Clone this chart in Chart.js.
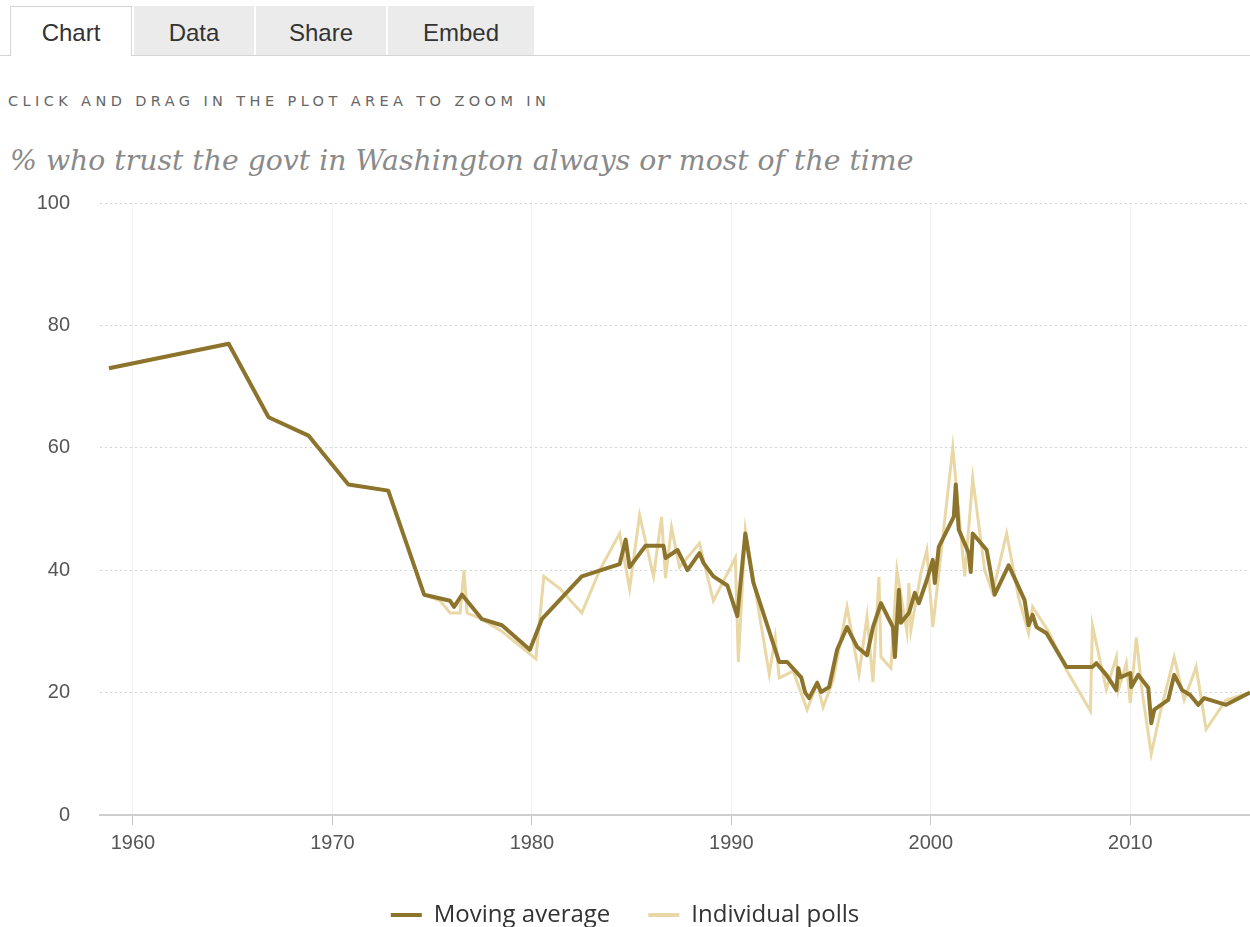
<!DOCTYPE html>
<html>
<head>
<meta charset="utf-8">
<title>Trust in government</title>
<script src="https://cdn.jsdelivr.net/npm/chart.js@4.4.1/dist/chart.umd.min.js"></script>
<style>
  html, body { margin: 0; padding: 0; background: #fff; }
  body { position: relative; width: 1250px; height: 927px; overflow: hidden; font-family: "Liberation Sans", Arial, sans-serif; }
  .tabs { position: absolute; left: 0; top: 6px; width: 1250px; height: 49px; border-bottom: 1px solid #d4d4d4; }
  .tab { position: absolute; top: 0; height: 49px; line-height: 54px; text-align: center; font-size: 24px; color: #333; background: #ebebeb; box-sizing: border-box; }
  .tab.active { background: #fff; border: 1px solid #d4d4d4; border-bottom: none; height: 50px; line-height: 52px; }
  .hint { position: absolute; left: 8px; top: 93px; font-family: "DejaVu Sans", sans-serif; font-size: 14.5px; line-height: 17px; letter-spacing: 4.4px; color: #666; white-space: nowrap; }
  .title { position: absolute; left: 10px; top: 144px; font-family: "DejaVu Serif", Georgia, serif; font-style: italic; font-size: 28.3px; line-height: 34px; color: #8a8a8a; white-space: nowrap; }
  .wrap { position: absolute; left: 0; top: 190px; width: 1250px; height: 747px; }
</style>
</head>
<body>
<div class="tabs">
  <div class="tab active" style="left:10px;width:122px">Chart</div>
  <div class="tab" style="left:134px;width:120px">Data</div>
  <div class="tab" style="left:256px;width:130px">Share</div>
  <div class="tab" style="left:388px;width:146px">Embed</div>
</div>
<div class="hint">CLICK AND DRAG IN THE PLOT AREA TO ZOOM IN</div>
<div class="title">% who trust the govt in Washington always or most of the time</div>
<div class="wrap"><canvas id="chart"></canvas></div>

<script>
// ── Datos ──────────────────────────────────────────────────────────────────
const xTicks = [1960, 1970, 1980, 1990, 2000, 2010];
const yTicks = [0, 20, 40, 60, 80, 100];

const maYears = [
  1958.8, 1964.8, 1966.8, 1968.8, 1970.8, 1972.8, 1974.6, 1975.9, 1976.1, 1976.5,
  1977.5, 1978.5, 1979.9, 1980.5, 1982.5, 1984.4, 1984.7, 1984.9, 1985.7, 1986.6,
  1986.7, 1987.3, 1987.8, 1988.4, 1988.6, 1989.1, 1989.8, 1990.3, 1990.7, 1991.1,
  1992.4, 1992.8, 1993.5, 1993.7, 1993.9, 1994.3, 1994.5, 1994.9, 1995.3, 1995.8,
  1996.3, 1996.8, 1997.1, 1997.5, 1998.1, 1998.2, 1998.4, 1998.5, 1998.9, 1999.2,
  1999.4, 1999.8, 2000.1, 2000.2, 2000.4, 2001.15, 2001.25, 2001.4, 2001.9, 2002.0,
  2002.1, 2002.8, 2003.2, 2003.9, 2004.2, 2004.7, 2004.9, 2005.1, 2005.3, 2005.8,
  2006.8, 2008.1, 2008.3, 2008.8, 2009.3, 2009.4, 2009.5, 2010.0, 2010.05, 2010.4,
  2010.9, 2011.05, 2011.2, 2011.9, 2012.2, 2012.6, 2013.0, 2013.4, 2013.7, 2014.8,
  2016.0
];
const maValues = [
  73, 77, 65, 62, 54, 53, 36, 35, 34, 36,
  32, 31, 27, 32, 39, 41, 45, 40.5, 44, 44,
  42, 43.3, 40, 42.8, 41.2, 39, 37.5, 32.5, 46, 38,
  25, 25, 22.5, 20, 19.1, 21.6, 20.1, 20.9, 27, 30.7,
  27.5, 26.1, 30.7, 34.6, 30.7, 25.8, 36.8, 31.4, 33, 36.3,
  34.6, 38.4, 41.7, 37.9, 43.8, 48.7, 54, 46.6, 42.8, 39.7,
  46, 43.3, 36, 40.8, 38.7, 35.1, 31, 32.7, 30.7, 29.7,
  24.2, 24.2, 24.8, 22.9, 20.4, 24, 22.5, 23.2, 20.9, 22.9,
  20.8, 15, 17.2, 18.8, 22.9, 20.4, 19.6, 18, 19.1, 18,
  20
];

const pollYears = [
  1958.8, 1964.8, 1966.8, 1968.8, 1970.8, 1972.8, 1974.6, 1975.4, 1975.9, 1976.4,
  1976.6, 1976.75, 1977.5, 1978.5, 1980.2, 1980.6, 1981.4, 1982.5, 1983.4, 1984.4,
  1984.9, 1985.4, 1986.1, 1986.5, 1986.7, 1987.0, 1987.4, 1988.4, 1989.1, 1990.2,
  1990.35, 1990.7, 1991.9, 1992.2, 1992.4, 1993.1, 1993.8, 1994.3, 1994.6, 1995.1,
  1995.8, 1996.4, 1996.8, 1997.1, 1997.4, 1997.5, 1998.0, 1998.3, 1998.8, 1998.9,
  1999.0, 1999.5, 1999.8, 2000.1, 2001.1, 2001.7, 2002.1, 2002.7, 2003.1, 2003.8,
  2004.4, 2004.9, 2005.1, 2005.9, 2006.8, 2008.0, 2008.1, 2008.8, 2009.3, 2009.4,
  2009.8, 2010.0, 2010.3, 2010.6, 2011.05, 2011.5, 2012.2, 2012.7, 2013.3, 2013.8,
  2014.8, 2016.0
];
const pollValues = [
  73, 77, 65, 62, 54, 53, 36, 35, 33, 33,
  40, 33, 32, 30, 25.5, 39, 37, 33, 40, 46,
  37, 49, 39, 48.7, 38.7, 47, 40.5, 44.4, 35, 42,
  25, 46.6, 23, 29, 22.4, 23.5, 17.2, 21.5, 17.6, 22,
  34, 23, 32.4, 21.7, 38.9, 25.8, 24, 40, 30, 37.9,
  30.2, 39.5, 43.3, 30.7, 60, 39, 55, 40, 36.3, 46,
  35.5, 29.7, 34, 30, 23.7, 17, 31, 20.5, 25.8, 20.4,
  24.8, 18.3, 29, 20, 10, 16.7, 25.8, 18.8, 24.2, 14,
  18.8, 20
];

const MA_COLOR = '#8c742d';
const POLL_COLOR = '#e9d8a6';

const toPoints = (xs, ys) => xs.map((x, i) => ({ x, y: ys[i] }));

// ── Gráfica ────────────────────────────────────────────────────────────────
new Chart(document.getElementById('chart'), {
  type: 'line',
  data: {
    datasets: [
      {
        label: 'Moving average',
        data: toPoints(maYears, maValues),
        borderColor: MA_COLOR,
        backgroundColor: MA_COLOR,
        borderWidth: 4,
        pointRadius: 0,
        tension: 0,
        borderJoinStyle: 'round'
      },
      {
        label: 'Individual polls',
        data: toPoints(pollYears, pollValues),
        borderColor: POLL_COLOR,
        backgroundColor: POLL_COLOR,
        borderWidth: 3,
        pointRadius: 0,
        tension: 0
      }
    ]
  },
  options: {
    responsive: true,
    maintainAspectRatio: false,
    animation: false,
    layout: { padding: { top: 13, right: 0, left: 0, bottom: 0 } },
    scales: {
      x: {
        type: 'linear',
        min: 1958.35,
        max: 2016,
        afterBuildTicks: s => { s.ticks = xTicks.map(v => ({ value: v })); },
        afterFit: s => { s.height = 50; },
        ticks: { callback: v => String(v), color: '#555', font: { family: 'Liberation Sans', size: 20 }, padding: 6, maxRotation: 0 },
        grid: { color: '#f3f3f3', tickColor: '#c8c8c8', tickLength: 10 },
        border: { color: '#cfcfcf', width: 2 }
      },
      y: {
        min: 0,
        max: 100,
        afterBuildTicks: s => { s.ticks = yTicks.map(v => ({ value: v })); },
        afterFit: s => { s.width = 100; },
        ticks: { color: '#555', font: { family: 'Liberation Sans', size: 20 }, padding: 0 },
        grid: { color: '#d4d4d4', drawTicks: true, tickLength: 30, tickColor: 'rgba(0,0,0,0)' },
        border: { display: false, dash: [2, 3] }
      }
    },
    plugins: {
      tooltip: { enabled: false },
      legend: {
        position: 'bottom',
        labels: {
          boxWidth: 31,
          boxHeight: 4,
          padding: 38,
          color: '#333',
          font: { family: 'Open Sans', size: 24 },
          generateLabels: ch => Chart.defaults.plugins.legend.labels.generateLabels(ch).map(l => ({ ...l, lineWidth: 0 }))
        }
      }
    }
  }
});
</script>
</body>
</html>
